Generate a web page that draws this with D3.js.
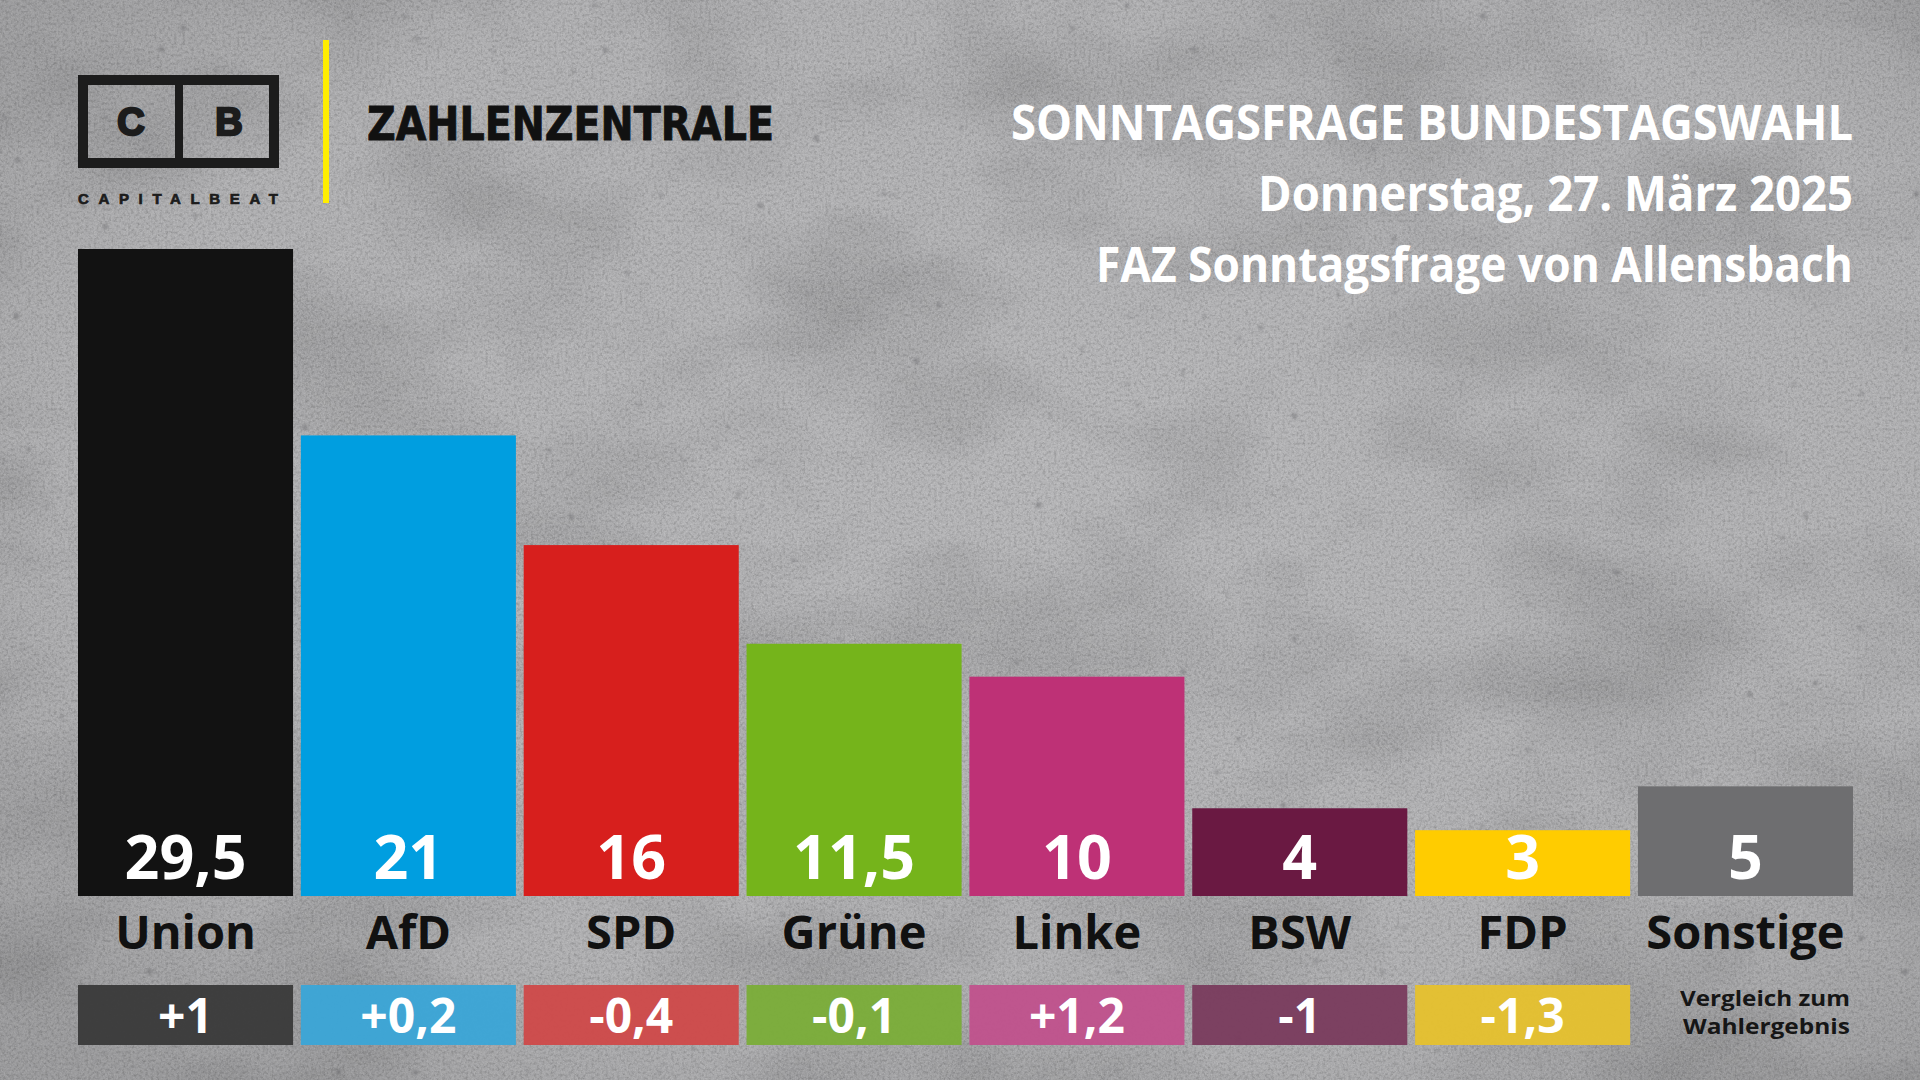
<!DOCTYPE html>
<html lang="de">
<head>
<meta charset="utf-8">
<title>Sonntagsfrage Bundestagswahl</title>
<script src="https://cdn.jsdelivr.net/npm/d3@7"></script>
<style>
  html, body { margin: 0; padding: 0; background: #a9a9ab; overflow: hidden; }
  svg { display: block; }
</style>
</head>
<body>
<svg id="chart"></svg>
<script>
// Sonntagsfrage bar chart, concrete background, change boxes underneath
const width = 1920;
const height = 1080;

const parties = ["Union", "AfD", "SPD", "Grüne", "Linke", "BSW", "FDP", "Sonstige"];
const values = [29.5, 21, 16, 11.5, 10, 4, 3, 5];
const changes = [1, 0.2, -0.4, -0.1, 1.2, -1, -1.3, null];
const barColors = ["#121212", "#009ee0", "#d71f1d", "#75b41b", "#be3176", "#6a1942", "#ffcc00", "#6e6e70"];
const changeColors = ["#3a3a3a", "#3ba6d6", "#ce4a4a", "#7bad39", "#c0528c", "#7a3c5e", "#e5c12f", null];

const titleLines = ["SONNTAGSFRAGE BUNDESTAGSWAHL", "Donnerstag, 27. März 2025", "FAZ Sonntagsfrage von Allensbach"];
const brandName = "ZAHLENZENTRALE";
const noteLines = ["Vergleich zum", "Wahlergebnis"];

const de = d3.formatLocale({ decimal: ",", thousands: ".", grouping: [3], currency: ["", " €"], minus: "-" });
const fmtValue = de.format("~g");
const fmtChange = de.format("+~g");

const font = "'Open Sans', 'Noto Sans', sans-serif";

function drawBackground(svg) {
    const defs = svg.append("defs");

    // soft vignette, darker at the edges
    const vig = defs.append("radialGradient").attr("id", "vig")
        .attr("cx", "55%").attr("cy", "45%").attr("r", "72%");
    vig.append("stop").attr("offset", "0%").attr("stop-color", "#000").attr("stop-opacity", 0);
    vig.append("stop").attr("offset", "70%").attr("stop-color", "#000").attr("stop-opacity", 0.03);
    vig.append("stop").attr("offset", "100%").attr("stop-color", "#000").attr("stop-opacity", 0.14);

    // large cloudy blotches
    const cloud = defs.append("filter").attr("id", "cloud").attr("x", 0).attr("y", 0).attr("width", "100%").attr("height", "100%");
    cloud.append("feTurbulence").attr("type", "fractalNoise").attr("baseFrequency", "0.004 0.007").attr("numOctaves", 5).attr("seed", 7);
    cloud.append("feColorMatrix").attr("type", "matrix")
        .attr("values", "0 0 0 0 0  0 0 0 0 0  0 0 0 0 0  -1 0 0 0 0.58");

    // fine grain, light and dark
    const grain = defs.append("filter").attr("id", "grain").attr("x", 0).attr("y", 0).attr("width", "100%").attr("height", "100%");
    grain.append("feTurbulence").attr("type", "fractalNoise").attr("baseFrequency", 0.7).attr("numOctaves", 2).attr("seed", 3);
    grain.append("feColorMatrix").attr("type", "matrix")
        .attr("values", "0 0 0 0 1  0 0 0 0 1  0 0 0 0 1  1 0 0 0 -0.4");

    const grainDark = defs.append("filter").attr("id", "grainDark").attr("x", 0).attr("y", 0).attr("width", "100%").attr("height", "100%");
    grainDark.append("feTurbulence").attr("type", "fractalNoise").attr("baseFrequency", 0.35).attr("numOctaves", 3).attr("seed", 11);
    grainDark.append("feColorMatrix").attr("type", "matrix")
        .attr("values", "0 0 0 0 0  0 0 0 0 0  0 0 0 0 0  -1 0 0 0 0.58");

    // small dark pores
    const pores = defs.append("filter").attr("id", "pores").attr("x", 0).attr("y", 0).attr("width", "100%").attr("height", "100%");
    pores.append("feTurbulence").attr("type", "fractalNoise").attr("baseFrequency", 0.09).attr("numOctaves", 1).attr("seed", 21);
    pores.append("feColorMatrix").attr("type", "matrix")
        .attr("values", "0 0 0 0 0.2  0 0 0 0 0.2  0 0 0 0 0.21  -9 0 0 0 2.5");
    pores.append("feGaussianBlur").attr("stdDeviation", 0.8);

    svg.append("rect").attr("width", width).attr("height", height).attr("fill", "#b4b4b6");
    svg.append("rect").attr("width", width).attr("height", height).attr("filter", "url(#cloud)").attr("opacity", 0.3);
    svg.append("rect").attr("width", width).attr("height", height).attr("filter", "url(#grainDark)").attr("opacity", 0.35);
    svg.append("rect").attr("width", width).attr("height", height).attr("filter", "url(#grain)").attr("opacity", 0.4);
    svg.append("rect").attr("width", width).attr("height", height).attr("filter", "url(#pores)").attr("opacity", 0.6);
    svg.append("rect").attr("width", width).attr("height", height).attr("fill", "url(#vig)");
}

function drawHeader(svg) {
    // CAPITALBEAT logo
    const ink = "#1c1c1c";
    const logo = svg.append("g").attr("class", "logo");
    logo.append("rect").attr("x", 83).attr("y", 80).attr("width", 191).attr("height", 83)
        .attr("fill", "none").attr("stroke", ink).attr("stroke-width", 10);
    logo.append("line").attr("x1", 179).attr("x2", 179).attr("y1", 80).attr("y2", 163)
        .attr("stroke", ink).attr("stroke-width", 8);
    logo.selectAll("text.letter")
        .data(["C", "B"])
        .join("text")
        .attr("class", "letter")
        .attr("x", (d, i) => i ? 229 : 131)
        .attr("y", 135)
        .attr("text-anchor", "middle")
        .attr("font-family", "'Liberation Sans', Arial, sans-serif")
        .attr("font-weight", 700)
        .attr("font-size", 38)
        .attr("fill", ink)
        .attr("stroke", ink).attr("stroke-width", 2.4)
        .text(d => d);
    logo.append("text")
        .attr("x", 78).attr("y", 204)
        .attr("textLength", 200).attr("lengthAdjust", "spacing")
        .attr("font-family", "'Liberation Sans', Arial, sans-serif")
        .attr("font-weight", 700).attr("font-size", 15)
        .attr("fill", ink)
        .attr("stroke", ink).attr("stroke-width", 0.7)
        .text("CAPITALBEAT");

    // yellow divider
    svg.append("rect").attr("x", 323).attr("y", 40).attr("width", 6).attr("height", 163).attr("fill", "#ffee00");

    svg.append("text")
        .attr("x", 367).attr("y", 140)
        .attr("textLength", 407).attr("lengthAdjust", "spacingAndGlyphs")
        .attr("font-family", "'DejaVu Sans Condensed', 'DejaVu Sans', sans-serif")
        .attr("font-weight", 700).attr("font-size", 47)
        .attr("fill", "#111")
        .attr("stroke", "#111").attr("stroke-width", 0.8)
        .text(brandName);

    const titleWidths = [842, 595, 757];
    svg.append("g").attr("class", "titles")
        .selectAll("text")
        .data(titleLines)
        .join("text")
        .attr("x", 1853)
        .attr("y", (d, i) => 140 + i * 71)
        .attr("text-anchor", "end")
        .attr("textLength", (d, i) => titleWidths[i])
        .attr("lengthAdjust", "spacingAndGlyphs")
        .attr("font-family", font)
        .attr("font-weight", 700)
        .attr("font-size", 48)
        .attr("fill", "#fff")
        .text(d => d);
}

function drawBars(svg) {
    const rows = parties.map((p, i) => ({ party: p, value: values[i], change: changes[i], color: barColors[i], changeColor: changeColors[i] }));

    const x = d3.scaleBand()
        .domain(parties)
        .range([78, 1853])
        .paddingInner(0.035)
        .paddingOuter(0);

    const y = d3.scaleLinear()
        .domain([0, d3.max(values)])
        .range([896, 249]);

    const bars = svg.append("g").attr("class", "bars")
        .selectAll("g")
        .data(rows)
        .join("g")
        .attr("transform", d => `translate(${x(d.party)},0)`);

    bars.append("rect")
        .attr("y", d => y(d.value))
        .attr("width", x.bandwidth())
        .attr("height", d => y(0) - y(d.value))
        .attr("fill", d => d.color);

    bars.append("text")
        .attr("x", x.bandwidth() / 2)
        .attr("y", 879)
        .attr("text-anchor", "middle")
        .attr("font-family", font)
        .attr("font-weight", 700)
        .attr("font-size", 61)
        .attr("fill", "#fff")
        .text(d => fmtValue(d.value));

    // party names
    bars.append("text")
        .attr("x", x.bandwidth() / 2)
        .attr("y", 949)
        .attr("text-anchor", "middle")
        .attr("font-family", font)
        .attr("font-weight", 700)
        .attr("font-size", 47)
        .attr("fill", "#111")
        .text(d => d.party);

    // change vs. election result
    const withChange = bars.filter(d => d.change !== null);
    withChange.append("rect")
        .attr("y", 985)
        .attr("width", x.bandwidth())
        .attr("height", 60)
        .attr("fill", d => d.changeColor)
        .attr("opacity", 0.96);
    withChange.append("text")
        .attr("x", x.bandwidth() / 2)
        .attr("y", 1033)
        .attr("text-anchor", "middle")
        .attr("font-family", font)
        .attr("font-weight", 700)
        .attr("font-size", 48)
        .attr("fill", "#fff")
        .text(d => fmtChange(d.change));

    const noteWidths = [170, 167];
    svg.append("g").attr("class", "note")
        .selectAll("text")
        .data(noteLines)
        .join("text")
        .attr("x", 1850)
        .attr("y", (d, i) => 1006 + i * 28)
        .attr("text-anchor", "end")
        .attr("textLength", (d, i) => noteWidths[i])
        .attr("lengthAdjust", "spacingAndGlyphs")
        .attr("font-family", font)
        .attr("font-weight", 700)
        .attr("font-size", 22)
        .attr("fill", "#161616")
        .text(d => d);
}

function createChart() {
    const svg = d3.select("#chart")
        .attr("width", width)
        .attr("height", height)
        .attr("viewBox", `0 0 ${width} ${height}`);

    drawBackground(svg);
    drawHeader(svg);
    drawBars(svg);
}

createChart();
</script>
</body>
</html>
